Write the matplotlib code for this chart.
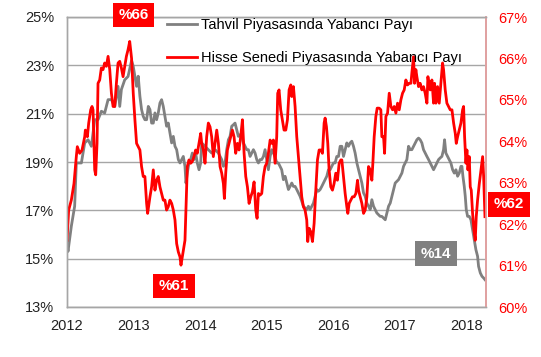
import matplotlib
matplotlib.use("Agg")
import matplotlib.pyplot as plt
from matplotlib.ticker import FuncFormatter

plt.rcParams['font.family'] = ['Liberation Sans', 'DejaVu Sans']

# Tahvil (bond) foreign share, left axis (%)
bond_years = [2012.000, 2012.015, 2012.065, 2012.115, 2012.140, 2012.165, 2012.216, 2012.266,
              2012.316, 2012.366, 2012.416, 2012.466, 2012.516, 2012.566, 2012.617, 2012.667,
              2012.717, 2012.767, 2012.792, 2012.817, 2012.867, 2012.917,
              2012.970, 2012.995, 2013.020, 2013.045, 2013.070, 2013.095, 2013.120, 2013.145,
              2013.170, 2013.196, 2013.221, 2013.246, 2013.271, 2013.296, 2013.321, 2013.346,
              2013.371, 2013.396, 2013.421, 2013.446, 2013.471, 2013.496, 2013.521, 2013.546,
              2013.572, 2013.597, 2013.622, 2013.647, 2013.672, 2013.697, 2013.722, 2013.747,
              2013.772, 2013.787, 2013.807, 2013.832, 2013.857, 2013.882, 2013.907, 2013.932,
              2013.957, 2013.983, 2014.008,
              2014.023, 2014.073, 2014.123, 2014.173, 2014.224, 2014.274, 2014.324, 2014.349,
              2014.374, 2014.399, 2014.424, 2014.449, 2014.474, 2014.499, 2014.524, 2014.549,
              2014.574, 2014.599, 2014.624, 2014.650, 2014.675, 2014.700, 2014.725, 2014.750,
              2014.775, 2014.800, 2014.825, 2014.850, 2014.875, 2014.900, 2014.925, 2014.950,
              2014.975, 2015.000, 2015.025, 2015.051,
              2015.075, 2015.125, 2015.150, 2015.175, 2015.200, 2015.225, 2015.250, 2015.276,
              2015.301, 2015.326, 2015.351, 2015.376, 2015.401, 2015.426, 2015.451, 2015.476,
              2015.501, 2015.526, 2015.551, 2015.576, 2015.601, 2015.626, 2015.651, 2015.677,
              2015.702, 2015.727, 2015.752, 2015.777, 2015.802, 2015.827, 2015.852, 2015.877,
              2015.902, 2015.927, 2015.952, 2015.977, 2016.002, 2016.027, 2016.052, 2016.078,
              2016.103,
              2016.128, 2016.153, 2016.178, 2016.203, 2016.228, 2016.253, 2016.278, 2016.303,
              2016.328, 2016.354, 2016.379, 2016.404, 2016.429, 2016.454, 2016.479, 2016.504,
              2016.529, 2016.554, 2016.579, 2016.604, 2016.629, 2016.654, 2016.679, 2016.704,
              2016.729, 2016.755, 2016.780, 2016.805, 2016.830, 2016.855, 2016.880, 2016.905,
              2016.930, 2016.955, 2016.980, 2017.005, 2017.030, 2017.055, 2017.080, 2017.105,
              2017.130, 2017.155,
              2017.180, 2017.205, 2017.230, 2017.255, 2017.280, 2017.305, 2017.330, 2017.355,
              2017.380, 2017.406, 2017.431, 2017.456, 2017.481, 2017.506, 2017.531, 2017.556,
              2017.581, 2017.606, 2017.631, 2017.656, 2017.671, 2017.691, 2017.716, 2017.741,
              2017.766, 2017.792, 2017.817, 2017.842, 2017.867, 2017.892, 2017.917, 2017.932,
              2017.947, 2017.967, 2017.982, 2017.997, 2018.017, 2018.042, 2018.067, 2018.092,
              2018.117, 2018.142, 2018.167, 2018.182, 2018.208, 2018.233, 2018.258, 2018.278]
bond_share = [15.65, 15.30, 16.34, 17.17, 18.96, 18.96, 18.96, 19.79,
              19.92, 19.65, 20.75, 20.75, 21.10, 21.03, 21.58, 21.58,
              21.30, 22.13, 21.30, 22.00, 22.40, 22.54,
              23.20, 22.96, 22.55, 22.13, 22.55, 21.72, 21.17, 20.89,
              20.75, 20.75, 21.30, 21.17, 20.61, 20.61, 21.03, 20.75,
              21.03, 21.44, 21.58, 21.30, 20.89, 20.48, 20.61, 20.20,
              19.79, 20.06, 19.65, 19.51, 19.10, 18.96, 19.10, 19.23,
              18.82, 18.13, 18.54, 18.96, 19.10, 19.37, 19.10, 19.37,
              18.96, 18.68, 18.96,
              19.79, 19.65, 19.51, 19.37, 19.51, 19.37, 19.10, 18.82,
              18.96, 19.51, 19.92, 20.06, 20.48, 20.54, 20.61, 20.34,
              20.06, 20.13, 20.06, 19.79, 19.65, 19.51, 19.51, 19.23,
              19.37, 19.51, 19.37, 19.10, 18.96, 19.10, 19.10, 19.23,
              19.51, 19.10, 18.68, 19.23,
              19.51, 19.23, 18.96, 18.96, 18.82, 18.68, 18.27, 18.41,
              18.13, 17.86, 17.99, 18.13, 17.99, 17.99, 17.86, 17.72,
              17.58, 17.37, 17.17, 17.10, 17.03, 17.17, 17.03, 17.17,
              17.30, 17.58, 17.86, 17.79, 17.86, 17.99, 18.13, 18.27,
              18.41, 18.68, 18.68, 18.82, 18.96, 18.96, 19.23, 19.23,
              19.65,
              19.65, 19.23, 19.51, 19.79, 19.65, 19.79, 19.86, 19.65,
              19.37, 18.96, 18.68, 18.41, 18.13, 17.72, 17.58, 17.30,
              17.17, 17.03, 17.44, 17.17, 17.03, 16.89, 16.82, 16.75,
              16.75, 16.68, 16.61, 16.89, 17.17, 17.30, 17.58, 17.86,
              18.13, 18.20, 18.27, 18.41, 18.54, 18.82, 18.96, 19.10,
              19.65, 19.51,
              19.51, 19.65, 19.79, 19.92, 19.99, 19.92, 19.79, 19.51,
              19.37, 19.23, 19.10, 18.96, 18.82, 18.68, 18.82, 18.96,
              19.10, 19.17, 19.23, 19.51, 19.92, 19.37, 19.23, 19.10,
              18.96, 18.68, 18.54, 18.68, 18.41, 18.54, 18.82, 18.82,
              18.41, 17.99, 17.58, 17.03, 16.75, 16.75, 16.61, 16.20,
              15.79, 15.37, 15.10, 14.68, 14.41, 14.27, 14.20, 14.13]

# Hisse senedi (equity) foreign share, right axis (%)
equity_years = [2012.000, 2012.025, 2012.065, 2012.105, 2012.140, 2012.155, 2012.190, 2012.226,
                2012.266, 2012.276, 2012.306, 2012.326, 2012.356, 2012.376, 2012.391, 2012.416,
                2012.431, 2012.451, 2012.466, 2012.491, 2012.516, 2012.541, 2012.566, 2012.591,
                2012.617, 2012.642, 2012.667, 2012.692, 2012.717, 2012.742, 2012.767, 2012.792,
                2012.817, 2012.842, 2012.867, 2012.892, 2012.917, 2012.942,
                2012.970, 2012.995, 2013.020, 2013.045, 2013.070, 2013.095, 2013.120, 2013.145,
                2013.170, 2013.196, 2013.211, 2013.246, 2013.271, 2013.296, 2013.321, 2013.346,
                2013.371, 2013.396, 2013.421, 2013.446, 2013.471, 2013.496, 2013.521, 2013.546,
                2013.572, 2013.597, 2013.622, 2013.647, 2013.672, 2013.697, 2013.712, 2013.732,
                2013.747, 2013.772, 2013.787, 2013.807, 2013.832, 2013.857, 2013.882, 2013.907,
                2013.932, 2013.957, 2013.983, 2014.008,
                2014.023, 2014.048, 2014.073, 2014.098, 2014.123, 2014.148, 2014.173, 2014.198,
                2014.224, 2014.249, 2014.274, 2014.299, 2014.324, 2014.349, 2014.364, 2014.384,
                2014.409, 2014.434, 2014.459, 2014.484, 2014.509, 2014.534, 2014.559, 2014.584,
                2014.609, 2014.635, 2014.660, 2014.685, 2014.710, 2014.735, 2014.760, 2014.785,
                2014.810, 2014.835, 2014.855, 2014.875, 2014.900, 2014.925, 2014.950, 2014.975,
                2015.000, 2015.025, 2015.051,
                2015.075, 2015.100, 2015.125, 2015.150, 2015.165, 2015.185, 2015.210, 2015.235,
                2015.260, 2015.286, 2015.311, 2015.336, 2015.361, 2015.376, 2015.401, 2015.426,
                2015.451, 2015.476, 2015.501, 2015.526, 2015.551, 2015.576, 2015.601, 2015.616,
                2015.636, 2015.661, 2015.687, 2015.712, 2015.737, 2015.762, 2015.787, 2015.812,
                2015.837, 2015.862, 2015.877, 2015.897, 2015.917, 2015.937, 2015.962, 2015.987,
                2016.012, 2016.037, 2016.062, 2016.088, 2016.113,
                2016.128, 2016.153, 2016.178, 2016.203, 2016.218, 2016.238, 2016.263, 2016.288,
                2016.313, 2016.339, 2016.364, 2016.379, 2016.404, 2016.429, 2016.454, 2016.479,
                2016.504, 2016.529, 2016.554, 2016.579, 2016.594, 2016.614, 2016.639, 2016.659,
                2016.689, 2016.714, 2016.729, 2016.755, 2016.770, 2016.790, 2016.815, 2016.840,
                2016.865, 2016.890, 2016.915, 2016.940, 2016.965, 2016.990, 2017.015, 2017.040,
                2017.065, 2017.090, 2017.115, 2017.141, 2017.166,
                2017.180, 2017.205, 2017.220, 2017.240, 2017.255, 2017.280, 2017.305, 2017.330,
                2017.355, 2017.380, 2017.406, 2017.421, 2017.441, 2017.456, 2017.481, 2017.506,
                2017.521, 2017.541, 2017.566, 2017.591, 2017.616, 2017.641, 2017.656, 2017.681,
                2017.706, 2017.731, 2017.756, 2017.782, 2017.807, 2017.832, 2017.847, 2017.867,
                2017.892, 2017.917, 2017.942, 2017.957, 2017.972, 2017.992, 2018.007, 2018.022,
                2018.042, 2018.057, 2018.072, 2018.092, 2018.112, 2018.132, 2018.147, 2018.167,
                2018.193, 2018.218, 2018.243, 2018.258, 2018.278]
equity_share = [61.61, 62.34, 62.58, 62.98, 63.63, 63.87, 63.71, 63.79,
                64.11, 64.27, 64.11, 64.44, 64.76, 64.84, 64.76, 63.31,
                63.19, 63.95, 65.40, 65.48, 65.77, 65.73, 65.89, 65.81,
                66.05, 65.73, 65.16, 64.84, 64.84, 65.40, 65.89, 65.93,
                65.77, 65.56, 65.81, 66.05, 66.21, 66.41,
                66.00, 65.16, 64.52, 63.95, 63.87, 63.79, 63.39, 63.15,
                63.15, 62.50, 62.26, 62.66, 62.90, 63.31, 62.82, 63.06,
                63.15, 62.90, 62.74, 62.58, 62.58, 62.34, 62.42, 62.58,
                62.50, 62.34, 62.10, 61.53, 61.33, 61.21, 61.01, 61.21,
                61.37, 61.61, 62.34, 63.39, 63.55, 63.47, 63.51, 63.63,
                63.79, 63.71, 63.95, 64.19,
                63.95, 63.79, 63.47, 64.11, 64.44, 64.35, 64.11, 63.63,
                63.95, 64.27, 63.95, 63.39, 63.23, 62.98, 62.62, 63.23,
                63.79, 63.95, 64.11, 64.27, 64.11, 63.71, 63.95, 63.79,
                64.11, 64.52, 63.71, 63.15, 62.90, 62.50, 62.66, 62.78,
                63.02, 62.34, 62.14, 62.74, 62.70, 62.74, 63.15, 63.39,
                63.47, 63.71, 64.03,
                63.95, 64.03, 63.47, 64.11, 65.16, 65.24, 64.76, 64.52,
                64.27, 64.27, 64.52, 65.24, 65.36, 65.08, 65.32, 64.84,
                64.11, 63.63, 63.15, 62.66, 62.42, 62.34, 62.10, 61.58,
                61.90, 61.82, 61.58, 62.02, 62.82, 63.55, 63.79, 63.79,
                63.71, 64.44, 64.56, 64.35, 63.95, 63.31, 62.90, 62.82,
                62.98, 63.23, 63.06, 63.47, 63.55,
                63.55, 63.15, 62.74, 62.42, 62.26, 62.50, 62.58, 62.66,
                62.66, 62.74, 63.06, 62.82, 62.66, 62.50, 62.26, 62.34,
                62.66, 63.39, 63.31, 63.06, 63.47, 64.11, 64.60, 64.80,
                64.80, 64.76, 64.11, 64.11, 63.71, 64.60, 64.68, 65.16,
                64.84, 64.76, 64.84, 64.68, 64.92, 64.76, 65.00, 65.16,
                65.24, 65.48, 65.36, 65.40, 65.40,
                65.65, 66.04, 65.40, 65.73, 65.56, 65.32, 65.40, 65.24,
                65.32, 65.16, 64.92, 65.56, 65.32, 65.24, 65.48, 64.92,
                65.40, 64.92, 65.32, 64.92, 65.40, 65.89, 65.73, 65.24,
                64.92, 64.84, 64.76, 64.76, 64.44, 64.19, 63.95, 64.11,
                64.27, 64.44, 64.76, 64.84, 64.11, 63.47, 63.79, 63.31,
                63.63, 62.90, 62.82, 62.26, 61.86, 61.61, 62.18, 62.58,
                62.98, 63.31, 63.63, 63.15, 62.18]

year_ticks = [2012, 2013, 2014, 2015, 2016, 2017, 2018]
left_ticks = [13, 15, 17, 19, 21, 23, 25]
right_ticks = [60, 61, 62, 63, 64, 65, 66, 67]

GRID = '#a6a6a6'
GRAY = '#808080'
RED = '#ff0000'

fig = plt.figure(figsize=(5.41, 3.57), dpi=100)
ax = fig.add_axes([67/541, 1 - 307/357, (485.5 - 67)/541, (307 - 17)/357])
ax2 = ax.twinx()

ax.set_xlim(2012, 2018.286)
ax.set_ylim(13, 25)
ax2.set_ylim(60, 67)

ax.set_yticks(left_ticks)
ax2.set_yticks(right_ticks)
ax.set_xticks(year_ticks)
ax.yaxis.set_major_formatter(FuncFormatter(lambda v, p: '%d%%' % v))
ax2.yaxis.set_major_formatter(FuncFormatter(lambda v, p: '%d%%' % v))

ax.grid(axis='y', color=GRID, linewidth=1.0)
ax.set_axisbelow(True)

ax.tick_params(axis='both', length=0, labelsize=10.5, colors='#222222')
ax.tick_params(axis='y', pad=9)
ax.tick_params(axis='x', pad=9)
ax2.tick_params(axis='y', length=0, labelsize=10.5, labelcolor=RED, pad=9)

for a in (ax, ax2):
    for s in ('left', 'bottom', 'top'):
        a.spines[s].set_color(GRID)
        a.spines[s].set_linewidth(1.0)
    a.spines['right'].set_color('#e0a0a0')
    a.spines['right'].set_linewidth(1.2)

l1, = ax.plot(bond_years, bond_share, color=GRAY, linewidth=2.0,
              label='Tahvil Piyasasında Yabancı Payı')
l2, = ax2.plot(equity_years, equity_share, color=RED, linewidth=2.0,
               label='Hisse Senedi Piyasasında Yabancı Payı')

ax2.legend(handles=[l1, l2], loc='upper left', bbox_to_anchor=(0.239, 0.995),
           frameon=False, fontsize=10.5, handlelength=2.05, handletextpad=0.28,
           labelspacing=1.3, borderaxespad=0, borderpad=0)

# callout boxes
def callout(x, y, txt, fc):
    fig.text(x/541, 1 - y/357, txt, ha='center', va='center', color='white',
             fontsize=11, fontweight='bold',
             bbox=dict(boxstyle='square,pad=0.35', fc=fc, ec='none'))

callout(133.5, 15, '%66', RED)
callout(174, 286, '%61', RED)
callout(436, 253.5, '%14', GRAY)
callout(509, 204.5, '%62', RED)

fig.savefig('out.png', dpi=100)
